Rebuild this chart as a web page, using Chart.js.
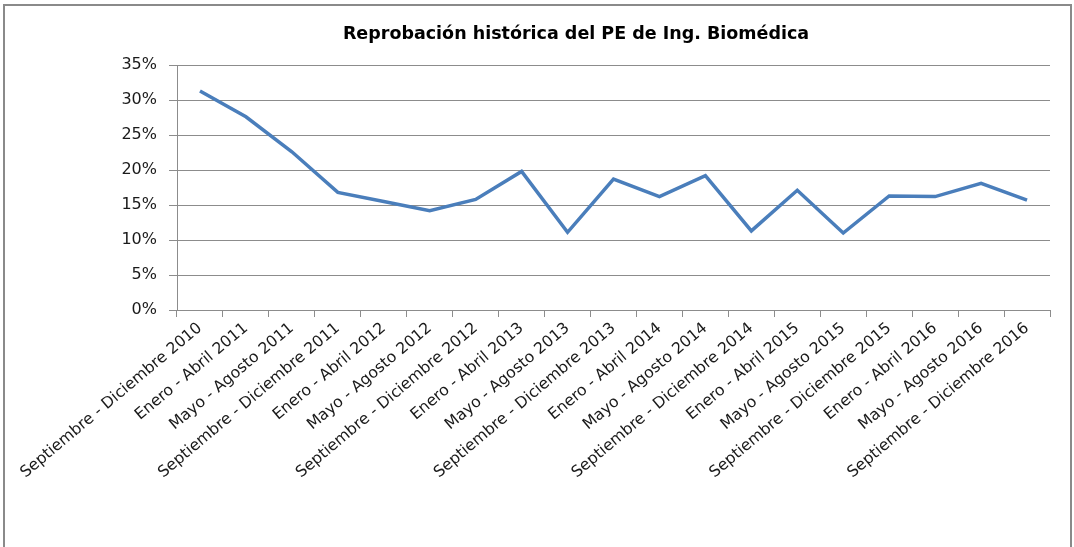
<!DOCTYPE html>
<html>
<head>
<meta charset="utf-8">
<script src="https://cdn.jsdelivr.net/npm/chart.js@4/dist/chart.umd.min.js"></script>
<style>
  html, body { margin: 0; padding: 0; background: #fff; overflow: hidden; }
  #frame { position: absolute; left: 3px; top: 4px; width: 1069px; height: 600px; border: 2px solid #8a8a8a; box-sizing: border-box; }
  #wrap { position: absolute; left: 0; top: 0; width: 1074px; height: 547px; }
</style>
</head>
<body>
<div id="frame"></div>
<div id="wrap"><canvas id="chart" width="1074" height="547"></canvas></div>
<script>
// Periods (categories)
const periods = [
  'Septiembre - Diciembre 2010', 'Enero - Abril 2011', 'Mayo - Agosto 2011',
  'Septiembre - Diciembre 2011', 'Enero - Abril 2012', 'Mayo - Agosto 2012',
  'Septiembre - Diciembre 2012', 'Enero - Abril 2013', 'Mayo - Agosto 2013',
  'Septiembre - Diciembre 2013', 'Enero - Abril 2014', 'Mayo - Agosto 2014',
  'Septiembre - Diciembre 2014', 'Enero - Abril 2015', 'Mayo - Agosto 2015',
  'Septiembre - Diciembre 2015', 'Enero - Abril 2016', 'Mayo - Agosto 2016',
  'Septiembre - Diciembre 2016'
];

// Failure rate (%)
const reprobacion = [
  31.3, 27.6, 22.6, 16.8, 15.5, 14.2, 15.8, 19.8, 11.1,
  18.7, 16.2, 19.2, 11.3, 17.1, 11.0, 16.3, 16.2, 18.1, 15.7
];

// Y axis ticks
const yMin = 0;
const yMax = 35;
const yStep = 5;

const font = "'DejaVu Sans', sans-serif";
const gridGray = '#8c8c8c';

new Chart(document.getElementById('chart'), {
  type: 'line',
  data: {
    labels: periods,
    datasets: [{
      data: reprobacion,
      borderColor: '#4a7ebb',
      borderWidth: 3.5,
      pointRadius: 0,
      tension: 0,
      fill: false
    }]
  },
  options: {
    responsive: false,
    animation: false,
    layout: { padding: { left: 102, right: 24, top: 0, bottom: 0 } },
    plugins: {
      legend: { display: false },
      tooltip: { enabled: false },
      title: {
        display: true,
        text: 'Reprobación histórica del PE de Ing. Biomédica',
        color: '#000',
        font: { family: font, size: 17.5, weight: 'bold' },
        padding: { top: 24, bottom: 20 }
      }
    },
    scales: {
      x: {
        offset: true,
        grid: {
          offset: true,
          drawOnChartArea: false,
          drawTicks: true,
          tickLength: 7,
          color: gridGray
        },
        border: { color: gridGray, width: 1 },
        ticks: {
          autoSkip: false,
          minRotation: 40,
          maxRotation: 40,
          padding: 2,
          color: '#1a1a1a',
          font: { family: font, size: 15.7 }
        },
        afterFit: (scale) => { scale.height = 237; }
      },
      y: {
        min: yMin,
        max: yMax,
        grid: { color: gridGray, tickLength: 8 },
        border: { color: gridGray, width: 1 },
        ticks: {
          stepSize: yStep,
          padding: 12,
          color: '#1a1a1a',
          font: { family: font, size: 16 },
          callback: (v) => v + '%'
        },
        afterFit: (scale) => { scale.width = 75; }
      }
    }
  }
});
</script>
</body>
</html>
